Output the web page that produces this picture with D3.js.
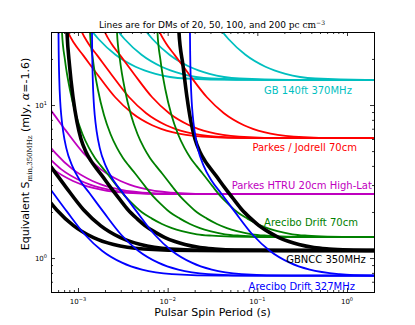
<!DOCTYPE html>
<html>
<head>
<meta charset="utf-8">
<script src="https://cdn.jsdelivr.net/npm/d3@7"></script>
<style>
  body { margin: 0; background: #fff; }
  svg { display: block; font-family: "DejaVu Sans", sans-serif; }
</style>
</head>
<body>
<div id="chart"></div>
<script>
// DMs of the four curves in every survey (pc cm^-3)
var dms = [20, 50, 100, 200];

// Curves per survey, one per DM, points are [period (s), S_min (mJy)]
var gb140 = [
  [[1.067e-3,38.2],[1.693e-3,27.0],[2.621e-3,21.3],[4.378e-3,17.8],[7.325e-3,16.0],[1.579e-2,14.9],[5.71e-2,14.6],[2,14.6]],
  [[2.080e-3,38.2],[3.301e-3,27.0],[5.109e-3,21.3],[8.535e-3,17.8],[1.428e-2,16.0],[3.079e-2,14.9],[0.1114,14.6],[2,14.6]],
  [[4.265e-3,38.2],[6.769e-3,27.0],[1.0475e-2,21.3],[1.750e-2,17.8],[2.928e-2,16.0],[6.312e-2,14.9],[0.2283,14.6],[2,14.6]],
  [[3.001e-2,38.2],[4.763e-2,27.0],[7.371e-2,21.3],[0.1231,17.8],[0.2060,16.0],[0.4442,14.9],[1.607,14.6],[2,14.6]]
];
var parkesJodrell = [
  [[6.337e-4,41.5],[7.39e-4,31.7],[9.07e-4,25.3],[1.144e-3,21.1],[1.639e-3,15.9],[2.601e-3,11.24],[4.025e-3,8.84],[6.723e-3,7.38],[1.125e-2,6.64],[2.425e-2,6.21],[8.77e-2,6.07],[2,6.07]],
  [[9.075e-4,41.5],[1.058e-3,31.7],[1.299e-3,25.3],[1.638e-3,21.1],[2.347e-3,15.9],[3.725e-3,11.24],[5.764e-3,8.84],[9.629e-3,7.38],[1.611e-2,6.64],[3.473e-2,6.21],[0.1256,6.07],[2,6.07]],
  [[1.637e-3,41.5],[1.909e-3,31.7],[2.343e-3,25.3],[2.954e-3,21.1],[4.234e-3,15.9],[6.718e-3,11.24],[1.040e-2,8.84],[1.737e-2,7.38],[2.906e-2,6.64],[6.265e-2,6.21],[0.2266,6.07],[2,6.07]],
  [[6.680e-3,41.5],[7.79e-3,31.7],[9.564e-3,25.3],[1.2055e-2,21.1],[1.728e-2,15.9],[2.742e-2,11.24],[4.243e-2,8.84],[7.088e-2,7.38],[0.1186,6.64],[0.2557,6.21],[0.925,6.07],[2,6.07]]
];
var htru = [
  [[3.402e-4,4.85],[5.265e-4,3.81],[8.795e-4,3.19],[1.4715e-3,2.87],[3.1725e-3,2.68],[1.1475e-2,2.62],[2,2.62]],
  [[4.178e-4,4.85],[6.466e-4,3.81],[1.080e-3,3.19],[1.807e-3,2.87],[3.896e-3,2.68],[1.409e-2,2.62],[2,2.62]],
  [[3.535e-4,6.85],[5.61e-4,4.85],[8.681e-4,3.81],[1.45e-3,3.19],[2.426e-3,2.87],[5.231e-3,2.68],[1.892e-2,2.62],[2,2.62]],
  [[4.019e-4,10.9],[5.066e-4,9.12],[7.26e-4,6.85],[1.152e-3,4.85],[1.783e-3,3.81],[2.979e-3,3.19],[4.983e-3,2.87],[1.074e-2,2.68],[3.886e-2,2.62],[2,2.62]]
];
var arecibo70 = [
  [[6.546e-4,35.9],[6.631e-4,29.9],[7.159e-4,19.66],[8.141e-4,12.53],[9.496e-4,8.604],[1.122e-3,6.468],[1.3254e-3,5.243],[1.5464e-3,4.511],[1.8039e-3,4.0],[2.1035e-3,3.58],[2.7195e-3,2.95],[3.3405e-3,2.54],[4.207e-3,2.22],[5.167e-3,1.99],[6.677e-3,1.81],[8.636e-3,1.67],[1.1162e-2,1.57],[1.4424e-2,1.50],[2.1208e-2,1.43],[3.118e-2,1.40],[5.208e-2,1.38],[0.1125,1.37],[2,1.37]],
  [[1.3435e-3,35.9],[1.361e-3,29.9],[1.4695e-3,19.66],[1.671e-3,12.53],[1.949e-3,8.604],[2.303e-3,6.468],[2.7205e-3,5.243],[3.174e-3,4.511],[3.7025e-3,4.0],[4.3175e-3,3.58],[5.582e-3,2.95],[6.8565e-3,2.54],[8.635e-3,2.22],[1.0605e-2,1.99],[1.3705e-2,1.81],[1.7725e-2,1.67],[2.291e-2,1.57],[2.9605e-2,1.50],[4.353e-2,1.43],[6.40e-2,1.40],[0.1069,1.38],[0.2309,1.37],[2,1.37]],
  [[2.687e-3,35.9],[2.722e-3,29.9],[2.939e-3,19.66],[3.342e-3,12.53],[3.898e-3,8.604],[4.606e-3,6.468],[5.441e-3,5.243],[6.348e-3,4.511],[7.405e-3,4.0],[8.635e-3,3.58],[1.1164e-2,2.95],[1.3713e-2,2.54],[1.727e-2,2.22],[2.121e-2,1.99],[2.741e-2,1.81],[3.545e-2,1.67],[4.582e-2,1.57],[5.921e-2,1.50],[8.706e-2,1.43],[0.1280,1.40],[0.2138,1.38],[0.4617,1.37],[2,1.37]],
  [[7.599e-3,35.9],[7.698e-3,29.9],[8.312e-3,19.66],[9.451e-3,12.53],[1.1024e-2,8.604],[1.3026e-2,6.468],[1.5387e-2,5.243],[1.7952e-2,4.511],[2.0941e-2,4.0],[2.442e-2,3.58],[3.157e-2,2.95],[3.878e-2,2.54],[4.884e-2,2.22],[5.998e-2,1.99],[7.752e-2,1.81],[0.1003,1.67],[0.1296,1.57],[0.1674,1.50],[0.2462,1.43],[0.3620,1.40],[0.6046,1.38],[1.306,1.37],[2,1.37]]
];
var gbncc = [
  [[3.63e-4,2.93],[5.761e-4,2.07],[8.915e-4,1.63],[1.4893e-3,1.36],[2.4917e-3,1.225],[5.372e-3,1.146],[1.943e-2,1.12],[2,1.12]],
  [[4.019e-4,4.67],[5.066e-4,3.90],[7.26e-4,2.93],[1.152e-3,2.07],[1.783e-3,1.63],[2.979e-3,1.36],[4.983e-3,1.225],[1.074e-2,1.146],[3.886e-2,1.12],[2,1.12]],
  [[7.445e-4,35.9],[7.541e-4,29.9],[8.039e-4,18.24],[8.796e-4,11.28],[9.746e-4,7.745],[1.080e-3,6.001],[1.228e-3,4.935],[1.396e-3,4.313],[1.587e-3,3.882],[1.852e-3,3.455],[2.274e-3,2.93],[2.939e-3,2.41],[3.609e-3,2.07],[4.547e-3,1.81],[5.582e-3,1.63],[7.217e-3,1.478],[9.331e-3,1.362],[1.2059e-2,1.282],[1.559e-2,1.225],[2.292e-2,1.171],[3.368e-2,1.146],[5.627e-2,1.128],[0.2,1.12],[2,1.12]],
  [[1.3195e-2,35.9],[1.3366e-2,29.9],[1.481e-2,18.24],[1.641e-2,11.28],[1.819e-2,7.745],[2.016e-2,6.001],[2.292e-2,4.935],[2.605e-2,4.313],[2.962e-2,3.882],[3.456e-2,3.455],[4.243e-2,2.93],[5.484e-2,2.41],[6.734e-2,2.07],[8.485e-2,1.81],[0.1042,1.63],[0.1347,1.478],[0.1741,1.362],[0.2250,1.282],[0.2909,1.225],[0.4277,1.171],[0.6285,1.146],[1.050,1.128],[2,1.12]]
];
var arecibo327 = [
  [[4.175e-4,3.20],[5.263e-4,2.67],[7.543e-4,2.01],[1.197e-3,1.42],[1.8525e-3,1.117],[3.0946e-3,0.933],[5.1775e-3,0.839],[1.1163e-2,0.785],[4.0375e-2,0.767],[2,0.767]],
  [[6.036e-4,47.2],[6.0585e-4,30.0],[6.0977e-4,21.2],[6.1765e-4,15.0],[6.3373e-4,10.5],[6.5016e-4,8.61],[6.8447e-4,6.67],[7.3926e-4,5.25],[8.6206e-4,4.00],[1.0583e-3,3.20],[1.334e-3,2.67],[1.912e-3,2.01],[3.034e-3,1.42],[4.696e-3,1.117],[7.844e-3,0.933],[1.3124e-2,0.839],[2.829e-2,0.785],[0.1023,0.767],[2,0.767]],
  [[1.4267e-3,47.2],[1.4321e-3,30.0],[1.4414e-3,21.2],[1.46e-3,15.0],[1.498e-3,10.5],[1.5368e-3,8.61],[1.618e-3,6.67],[1.7474e-3,5.25],[2.0377e-3,4.00],[2.5016e-3,3.20],[3.1534e-3,2.67],[4.5194e-3,2.01],[7.172e-3,1.42],[1.11e-2,1.117],[1.8542e-2,0.933],[3.1021e-2,0.839],[6.688e-2,0.785],[0.2419,0.767],[2,0.767]],
  [[1.7656e-2,47.2],[1.7723e-2,30.0],[1.7837e-2,21.2],[1.8068e-2,15.0],[1.8538e-2,10.5],[1.9019e-2,8.61],[2.0023e-2,6.67],[2.1625e-2,5.25],[2.5218e-2,4.00],[3.0958e-2,3.20],[3.9024e-2,2.67],[5.593e-2,2.01],[8.875e-2,1.42],[0.1374,1.117],[0.2295,0.933],[0.3839,0.839],[0.8277,0.785],[2,0.767]]
];

var surveyNames = ["GB 140ft 370MHz", "Parkes / Jodrell 70cm", "Parkes HTRU 20cm High-Lat",
                   "Arecibo Drift 70cm", "GBNCC 350MHz", "Arecibo Drift 327MHz"];

// Major tick values (decades)
var xMajor = [1e-3, 1e-2, 1e-1, 1];
var yMajor = [1, 10];

// Dimensions
var margin = {top: 32, right: 41, bottom: 33, left: 51},
    width = 415 - margin.left - margin.right,
    height = 325 - margin.top - margin.bottom;

var svg = d3.select("#chart")
    .append("svg")
    .attr("width", 415)
    .attr("height", 325);

var g = svg.append("g")
    .attr("transform", "translate(" + margin.left + "," + margin.top + ")");

var x = d3.scaleLog().domain([5e-4, 2]).range([0, width]);
var y = d3.scaleLog().domain([0.6, 30]).range([height, 0]);

g.append("clipPath").attr("id", "clip")
    .append("rect").attr("width", width).attr("height", height);

var line = d3.line()
    .x(function (d) { return x(d[0]); })
    .y(function (d) { return y(d[1]); })
    .curve(d3.curveMonotoneX);

// Survey styling; label anchors are in data coords (right end, baseline)
var surveys = [
  {curves: gb140,         color: "#00bfbf", lw: 1.8, label: [1.134, 11.8]},
  {curves: parkesJodrell, color: "#ff0000", lw: 1.8, label: [1.289, 4.97]},
  {curves: htru,          color: "#bf00bf", lw: 1.8, label: [1.895, 2.81]},
  {curves: arecibo70,     color: "#008000", lw: 1.8, label: [1.323, 1.612]},
  {curves: gbncc,         color: "#000000", lw: 3.6, label: [1.624, 0.925]},
  {curves: arecibo327,    color: "#0000ff", lw: 1.8, label: [1.225, 0.621]}
];

var plot = g.append("g").attr("clip-path", "url(#clip)");

surveys.forEach(function (s) {
    plot.append("g")
        .selectAll("path")
        .data(s.curves)
        .enter()
        .append("path")
        .attr("d", line)
        .attr("fill", "none")
        .attr("stroke", s.color)
        .attr("stroke-width", s.lw);
});

// Survey labels
surveys.forEach(function (s, i) {
    g.append("text")
        .attr("x", x(s.label[0]))
        .attr("y", y(s.label[1]))
        .attr("text-anchor", "end")
        .attr("font-size", "10px")
        .attr("fill", s.color)
        .text(surveyNames[i]);
});

// Minor ticks for log axes
var xMinor = [], yMinor = [];
for (var e = -4; e <= 0; e++) {
    for (var k = 2; k <= 9; k++) {
        var v = k * Math.pow(10, e);
        if (v >= 5e-4 && v <= 2) xMinor.push(v);
    }
}
for (var e2 = -1; e2 <= 1; e2++) {
    for (var k2 = 2; k2 <= 9; k2++) {
        var v2 = k2 * Math.pow(10, e2);
        if (v2 >= 0.6 && v2 <= 30) yMinor.push(v2);
    }
}

// Inward ticks on all four sides, classic style
var axes = [
    [d3.axisBottom, x, xMajor, xMinor, "translate(0," + height + ")"],
    [d3.axisTop,    x, xMajor, xMinor, "translate(0,0)"],
    [d3.axisLeft,   y, yMajor, yMinor, "translate(0,0)"],
    [d3.axisRight,  y, yMajor, yMinor, "translate(" + width + ",0)"]
];
axes.forEach(function (a) {
    [[a[2], 4], [a[3], 2]].forEach(function (t) {
        var ax = g.append("g")
            .attr("transform", a[4])
            .call(a[0](a[1]).tickValues(t[0]).tickSize(-t[1]).tickFormat(""));
        ax.select(".domain").remove();
        ax.selectAll("line").attr("stroke", "#000").attr("stroke-width", 0.8);
    });
});

// Frame
g.append("rect")
    .attr("width", width)
    .attr("height", height)
    .attr("fill", "none")
    .attr("stroke", "#000")
    .attr("stroke-width", 1)
    .attr("shape-rendering", "crispEdges");

// Tick labels 10^n
function expLabel(v) {
    var n = Math.round(Math.log10(v));
    return n < 0 ? "\u2212" + (-n) : "" + n;
}
xMajor.forEach(function (v) {
    var t = g.append("text")
        .attr("x", x(v))
        .attr("y", height + 12)
        .attr("text-anchor", "middle")
        .attr("font-size", "7px")
        .text("10");
    t.append("tspan")
        .attr("dy", -3.5)
        .attr("font-size", "5px")
        .text(expLabel(v));
});
yMajor.forEach(function (v) {
    var t = g.append("text")
        .attr("x", -4)
        .attr("y", y(v) + 3)
        .attr("text-anchor", "end")
        .attr("font-size", "7px")
        .text("10");
    t.append("tspan")
        .attr("dy", -3.5)
        .attr("font-size", "5px")
        .text(expLabel(v));
});

// Title
var title = svg.append("text")
    .attr("x", 212)
    .attr("y", 28)
    .attr("text-anchor", "middle")
    .attr("font-size", "9px")
    .text("Lines are for DMs of " + dms.slice(0, 3).join(", ") + ", and " + dms[3] + " ");
title.append("tspan").attr("font-family", "DejaVu Serif").text("pc cm");
title.append("tspan").attr("font-family", "DejaVu Serif").attr("font-size", "6px").attr("dy", -3.5).text("\u22123");

// X label
svg.append("text")
    .attr("x", 212.5)
    .attr("y", 316)
    .attr("text-anchor", "middle")
    .attr("font-size", "11px")
    .text("Pulsar Spin Period (s)");

// Y label
var ylab = svg.append("text")
    .attr("transform", "translate(29,154) rotate(-90)")
    .attr("text-anchor", "middle")
    .attr("font-size", "11px")
    .text("Equivalent S");
ylab.append("tspan").attr("font-family", "DejaVu Serif").attr("font-size", "7px").attr("dy", 2.5).text("min,350MHz");
ylab.append("tspan").attr("dy", -2.5).text(" (mJy, ");
ylab.append("tspan").attr("font-family", "DejaVu Serif").attr("font-style", "italic").text("\u03b1");
ylab.append("tspan").text("=-1.6)");
</script>
</body>
</html>
